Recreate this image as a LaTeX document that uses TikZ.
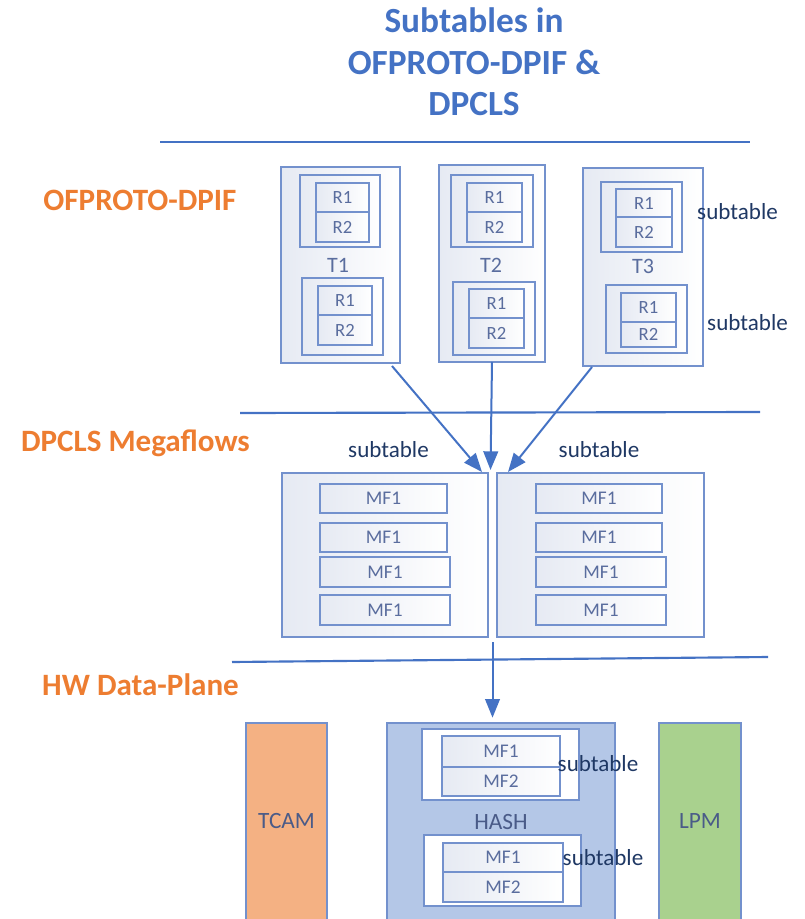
\documentclass[tikz,border=0pt]{standalone}
\usepackage{fontspec}
\setmainfont{Carlito}
\usetikzlibrary{arrows.meta,calc}

\definecolor{linecol}{HTML}{4472C4}
\definecolor{boxline}{HTML}{7391CD}
\definecolor{boxshade}{HTML}{E6EAF3}
\definecolor{rtext}{HTML}{5A6D9E}
\definecolor{sectcol}{HTML}{ED7D31}
\definecolor{subtcol}{HTML}{1F3864}
\definecolor{tcamfill}{HTML}{F4B183}
\definecolor{hashfill}{HTML}{B4C7E7}
\definecolor{lpmfill}{HTML}{A9D18E}
\definecolor{hwtext}{HTML}{4A5B88}

% one unit = one pixel of the finished image, y grows downwards
\tikzset{
  x=0.75pt, y=-0.75pt,
  panel/.style={draw=boxline, line width=1.1pt, inner sep=0pt, outer sep=0pt,
    left color=boxshade, right color=white},
  whitebox/.style={draw=boxline, line width=1.1pt, inner sep=0pt, outer sep=0pt, fill=white},
  cell/.style={panel, text=rtext, font=\fontsize{14}{15}\selectfont},
  mfcell/.style={panel, text=rtext, font=\fontsize{14.5}{15}\selectfont},
  tlabel/.style={text=rtext, font=\fontsize{16.5}{18}\selectfont, inner sep=0pt},
  subt/.style={text=subtcol, font=\fontsize{17.3}{19}\selectfont, inner sep=0pt},
  sect/.style={text=sectcol, font=\bfseries\fontsize{23.3}{26}\selectfont, inner sep=0pt},
  sepline/.style={draw=linecol, line width=1.6pt},
  arr/.style={draw=linecol, line width=1.5pt, -{Triangle[length=14pt,width=11pt]}},
  hwbox/.style={draw=boxline, line width=1.1pt, inner sep=0pt, outer sep=0pt},
  hwtxt/.style={text=hwtext, font=\fontsize{17.5}{19}\selectfont, inner sep=0pt},
}
% \cellbox[style]{name}{x1}{y1}{x2}{y2}{text}: box between two corners (in pixels)
\newcommand{\cellbox}[7][panel]{%
  \node[#1, anchor=center,
    minimum width={(#5-#3)*0.75pt}, minimum height={(#6-#4)*0.75pt}]
    (#2) at ({(#3+#5)/2},{(#4+#6)/2}) {#7};}

\begin{document}
\begin{tikzpicture}
\useasboundingbox (0,0) rectangle (804,919);
\clip (0,0) rectangle (804,919);

% title
\node[text=linecol, font=\bfseries\fontsize{26.5}{31}\selectfont, align=center, inner sep=0pt]
  (title) at (474,62) {Subtables in\\OFPROTO-DPIF \&\\DPCLS};

% layer separators
\coordinate (s1a) at (160,142); \coordinate (s1b) at (750,142);
\coordinate (s2a) at (240,413); \coordinate (s2b) at (760,412);
\coordinate (s3a) at (232,662); \coordinate (s3b) at (768,657);
\draw[sepline] (s1a) -- (s1b);
\draw[sepline] (s2a) -- (s2b);
\draw[sepline] (s3a) -- (s3b);

% layer names
\node[sect] (lofp) at (140,200) {OFPROTO-DPIF};
\node[sect] (ldpc) at (135.5,443) {DPCLS Megaflows};
\node[sect] (lhw)  at (140.5,685) {HW Data-Plane};

% ---- ofproto-dpif tables ----
\cellbox{t1}{281}{167}{400}{363}{}
\cellbox{t1a}{300}{175}{380}{247}{}
\cellbox[cell]{t1ar1}{316}{183}{369}{212}{R1}
\cellbox[cell]{t1ar2}{316}{212}{369}{242}{R2}
\node[tlabel] (t1l) at (338,265) {T1};
\cellbox{t1b}{302}{278}{383}{355}{}
\cellbox[cell]{t1br1}{318}{286}{372}{315}{R1}
\cellbox[cell]{t1br2}{318}{315}{372}{345}{R2}

\cellbox{t2}{439}{165}{545}{362}{}
\cellbox{t2a}{451}{175}{533}{247}{}
\cellbox[cell]{t2ar1}{467}{183}{522}{212}{R1}
\cellbox[cell]{t2ar2}{467}{212}{522}{242}{R2}
\node[tlabel] (t2l) at (491,265) {T2};
\cellbox{t2b}{453}{282}{535}{355}{}
\cellbox[cell]{t2br1}{469}{289}{524}{318}{R1}
\cellbox[cell]{t2br2}{469}{318}{524}{348}{R2}

\cellbox{t3}{583}{168}{703}{366}{}
\cellbox{t3a}{601}{182}{682}{252}{}
\cellbox[cell]{t3ar1}{616}{189}{672}{217}{R1}
\cellbox[cell]{t3ar2}{616}{217}{672}{247}{R2}
\node[tlabel] (t3l) at (643,266) {T3};
\cellbox{t3b}{606}{285}{687}{353}{}
\cellbox[cell]{t3br1}{621}{293}{676}{322}{R1}
\cellbox[cell]{t3br2}{621}{322}{676}{347}{R2}

\node[subt] (st1) at (737.5,212) {subtable};
\node[subt] (st2) at (747.5,323) {subtable};

% ---- dpcls megaflow subtables ----
\cellbox{mfl}{282}{473}{488}{637}{}
\cellbox[mfcell]{mfl1}{320}{484}{447}{513}{MF1}
\cellbox[mfcell]{mfl2}{320}{523}{447}{552}{MF1}
\cellbox[mfcell]{mfl3}{320}{557}{450}{587}{MF1}
\cellbox[mfcell]{mfl4}{320}{595}{450}{625}{MF1}

\cellbox{mfr}{497}{473}{704}{637}{}
\cellbox[mfcell]{mfr1}{536}{484}{662}{513}{MF1}
\cellbox[mfcell]{mfr2}{536}{523}{662}{552}{MF1}
\cellbox[mfcell]{mfr3}{536}{557}{666}{587}{MF1}
\cellbox[mfcell]{mfr4}{536}{595}{666}{625}{MF1}

\node[subt] (st3) at (388.5,450) {subtable};
\node[subt] (st4) at (599,450) {subtable};

% tables feeding the megaflow cache
\coordinate (gap) at ($(mfl.north east)!0.5!(mfr.north west)$);
\draw[arr] ([shift={(-8,3)}]t1.south east) -- ([shift={(-6,-1)}]mfl.north east);
\draw[arr] (t2.south) -- ([shift={(-2,-3)}]gap);
\draw[arr] ([shift={(9,1)}]t3.south west) -- ([shift={(11,-1)}]mfr.north west);

% ---- hardware data plane ----
\cellbox[hwbox, fill=tcamfill]{tcam}{246}{723}{327}{930}{}
\node[hwtxt] (tcaml) at (286.5,821) {TCAM};
\cellbox[hwbox, fill=hashfill]{hash}{387}{723}{615}{930}{}
\node[hwtxt] (hashl) at (501,822) {HASH};
\cellbox[hwbox, fill=lpmfill]{lpm}{659}{723}{741}{930}{}
\node[hwtxt] (lpml) at (700,821) {LPM};

\cellbox[whitebox]{hs1}{422}{729}{579}{800}{}
\cellbox[mfcell]{hs1a}{442}{736}{560}{767}{MF1}
\cellbox[mfcell]{hs1b}{442}{767}{560}{796}{MF2}
\cellbox[whitebox]{hs2}{424}{835}{581}{906}{}
\cellbox[mfcell]{hs2a}{443}{843}{563}{872}{MF1}
\cellbox[mfcell]{hs2b}{443}{872}{563}{902}{MF2}

\node[subt] (st5) at (598,764) {subtable};
\node[subt] (st6) at (603,858) {subtable};

% megaflow cache offloaded to the hash table
\coordinate (gapb) at ($(mfl.south east)!0.5!(mfr.south west)$);
\draw[arr] ([yshift=-4pt]gapb) -- ([yshift=4pt]gapb |- hash.north);
\end{tikzpicture}
\end{document}
